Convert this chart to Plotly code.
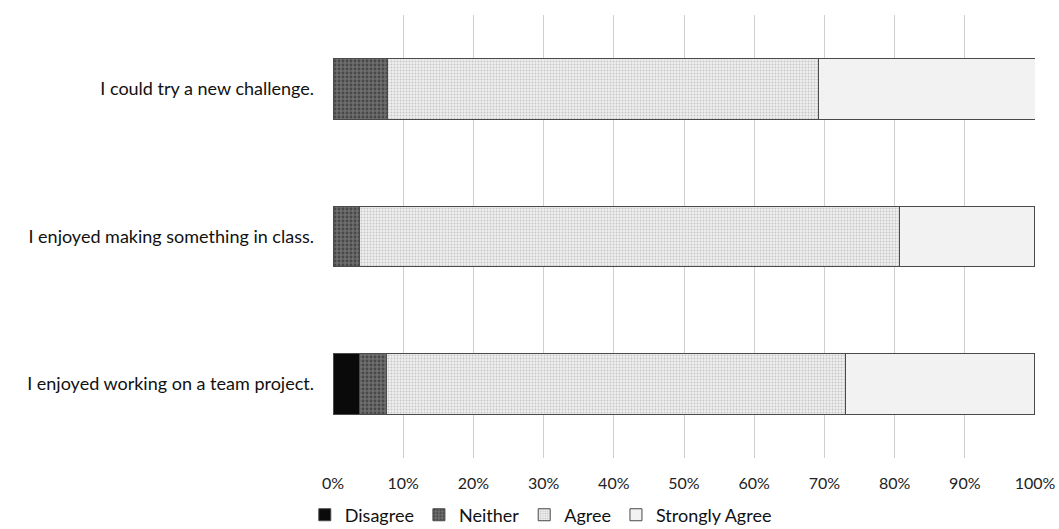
import plotly.graph_objects as go

# Survey statements (bottom to top as drawn)
statements = [
    "I enjoyed working on a team project.",
    "I enjoyed making something in class.",
    "I could try a new challenge.",
]

# Share of responses (%) per statement, same order as statements
disagree = [3.8, 0.0, 0.0]
neither = [3.8, 3.8, 7.7]
agree = [65.4, 76.9, 61.5]
strongly_agree = [26.9, 19.2, 30.8]

tick_vals = [0, 10, 20, 30, 40, 50, 60, 70, 80, 90, 100]
tick_text = [f"{v}%" for v in tick_vals]

series = [
    ("Disagree", disagree, dict(color="#0a0a0a")),
    ("Neither", neither, dict(color="#555555",
                              pattern=dict(shape=".", fgcolor="#222222", bgcolor="#6e6e6e",
                                           size=4, solidity=0.4))),
    ("Agree", agree, dict(color="#d4d4d4",
                          pattern=dict(shape=".", fgcolor="#9c9c9c", bgcolor="#eeeeee",
                                       size=3, solidity=0.3))),
    ("Strongly Agree", strongly_agree, dict(color="#f2f2f2")),
]

fig = go.Figure()
for name, vals, marker in series:
    marker = dict(marker)
    marker["line"] = dict(color="#4a4a4a", width=1)
    fig.add_trace(go.Bar(
        y=statements, x=vals, name=name, orientation="h",
        marker=marker, width=0.41,
    ))

fig.update_layout(
    barmode="stack",
    width=1059, height=529,
    paper_bgcolor="white", plot_bgcolor="white",
    margin=dict(l=333, r=24, t=15, b=71, autoexpand=False),
    font=dict(family="Lato, 'Open Sans', sans-serif", size=18, color="#1a1a1a"),
    xaxis=dict(range=[0, 100], tickvals=tick_vals, ticktext=tick_text,
               showgrid=True, gridcolor="#cfcfcf", gridwidth=1,
               zeroline=False, showline=False, ticks="", automargin=False,
               ticklabelstandoff=14,
               tickfont=dict(size=16, color="#222222")),
    yaxis=dict(showgrid=False, ticks="", ticklen=0, ticklabelstandoff=18,
               range=[-0.5, 2.5], automargin=False,
               tickfont=dict(size=18, color="#111111")),
    legend=dict(orientation="h", x=0.296, xanchor="center", y=-0.087, yanchor="top",
                traceorder="normal", font=dict(size=18, color="#111111"),
                itemwidth=30, entrywidthmode="pixels"),
)

fig.write_html("out.html")
